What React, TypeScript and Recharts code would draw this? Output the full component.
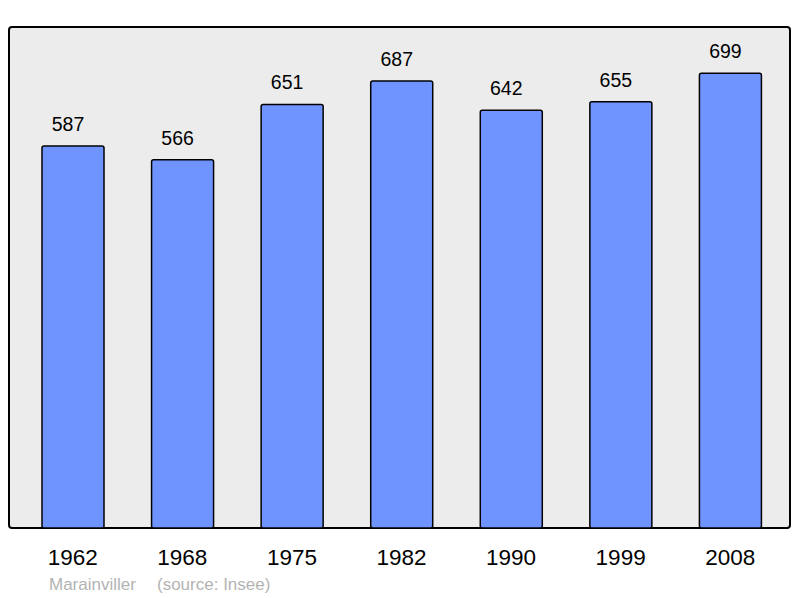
import React from "react";
import { BarChart, Bar, XAxis, YAxis, LabelList } from "recharts";

const years = ["1962", "1968", "1975", "1982", "1990", "1999", "2008"];
const population = [587, 566, 651, 687, 642, 655, 699];
const commune = "Marainviller";
const source = "(source: Insee)";

const data = years.map((y, i) => ({ year: y, pop: population[i] }));

const FONT = "'Liberation Sans', Arial, sans-serif";

export default function App() {
  return (
    <div style={{ position: "absolute", left: 0, top: 0, width: 800, height: 598, background: "#fff" }}>
      <div
        style={{
          position: "absolute",
          left: 8,
          top: 26,
          width: 783,
          height: 503,
          boxSizing: "border-box",
          border: "2px solid #000",
          borderRadius: 4,
          background: "#ececec",
        }}
      />
      <div style={{ position: "absolute", left: 0, top: 0 }}>
        <BarChart
          width={800}
          height={598}
          data={data}
          margin={{ top: 27, right: 9, bottom: 40, left: 9 }}
          barCategoryGap={0}
        >
          <XAxis
            dataKey="year"
            axisLine={false}
            tickLine={false}
            tickSize={0}
            tickMargin={21}
            height={30}
            padding={{ left: 9, right: 6 }}
            tick={{ fill: "#000", fontSize: 22.5, fontFamily: FONT }}
            interval={0}
          />
          <YAxis hide domain={[0, 770]} />
          <Bar
            dataKey="pop"
            fill="#7094ff"
            stroke="#000"
            strokeWidth={1.5}
            barSize={62}
            radius={2}
            isAnimationActive={false}
          >
            <LabelList
              dataKey="pop"
              position="top"
              offset={15}
              dx={-5}
              fill="#000"
              fontSize={19.5}
              fontFamily={FONT}
            />
          </Bar>
        </BarChart>
      </div>
      <svg width={800} height={598} style={{ position: "absolute", left: 0, top: 0, pointerEvents: "none" }}>
        <text x={49} y={590} fontSize={17} fontFamily={FONT} fill="#b3b3b3">
          {commune}
        </text>
        <text x={157} y={590} fontSize={17} fontFamily={FONT} fill="#b3b3b3">
          {source}
        </text>
      </svg>
    </div>
  );
}
